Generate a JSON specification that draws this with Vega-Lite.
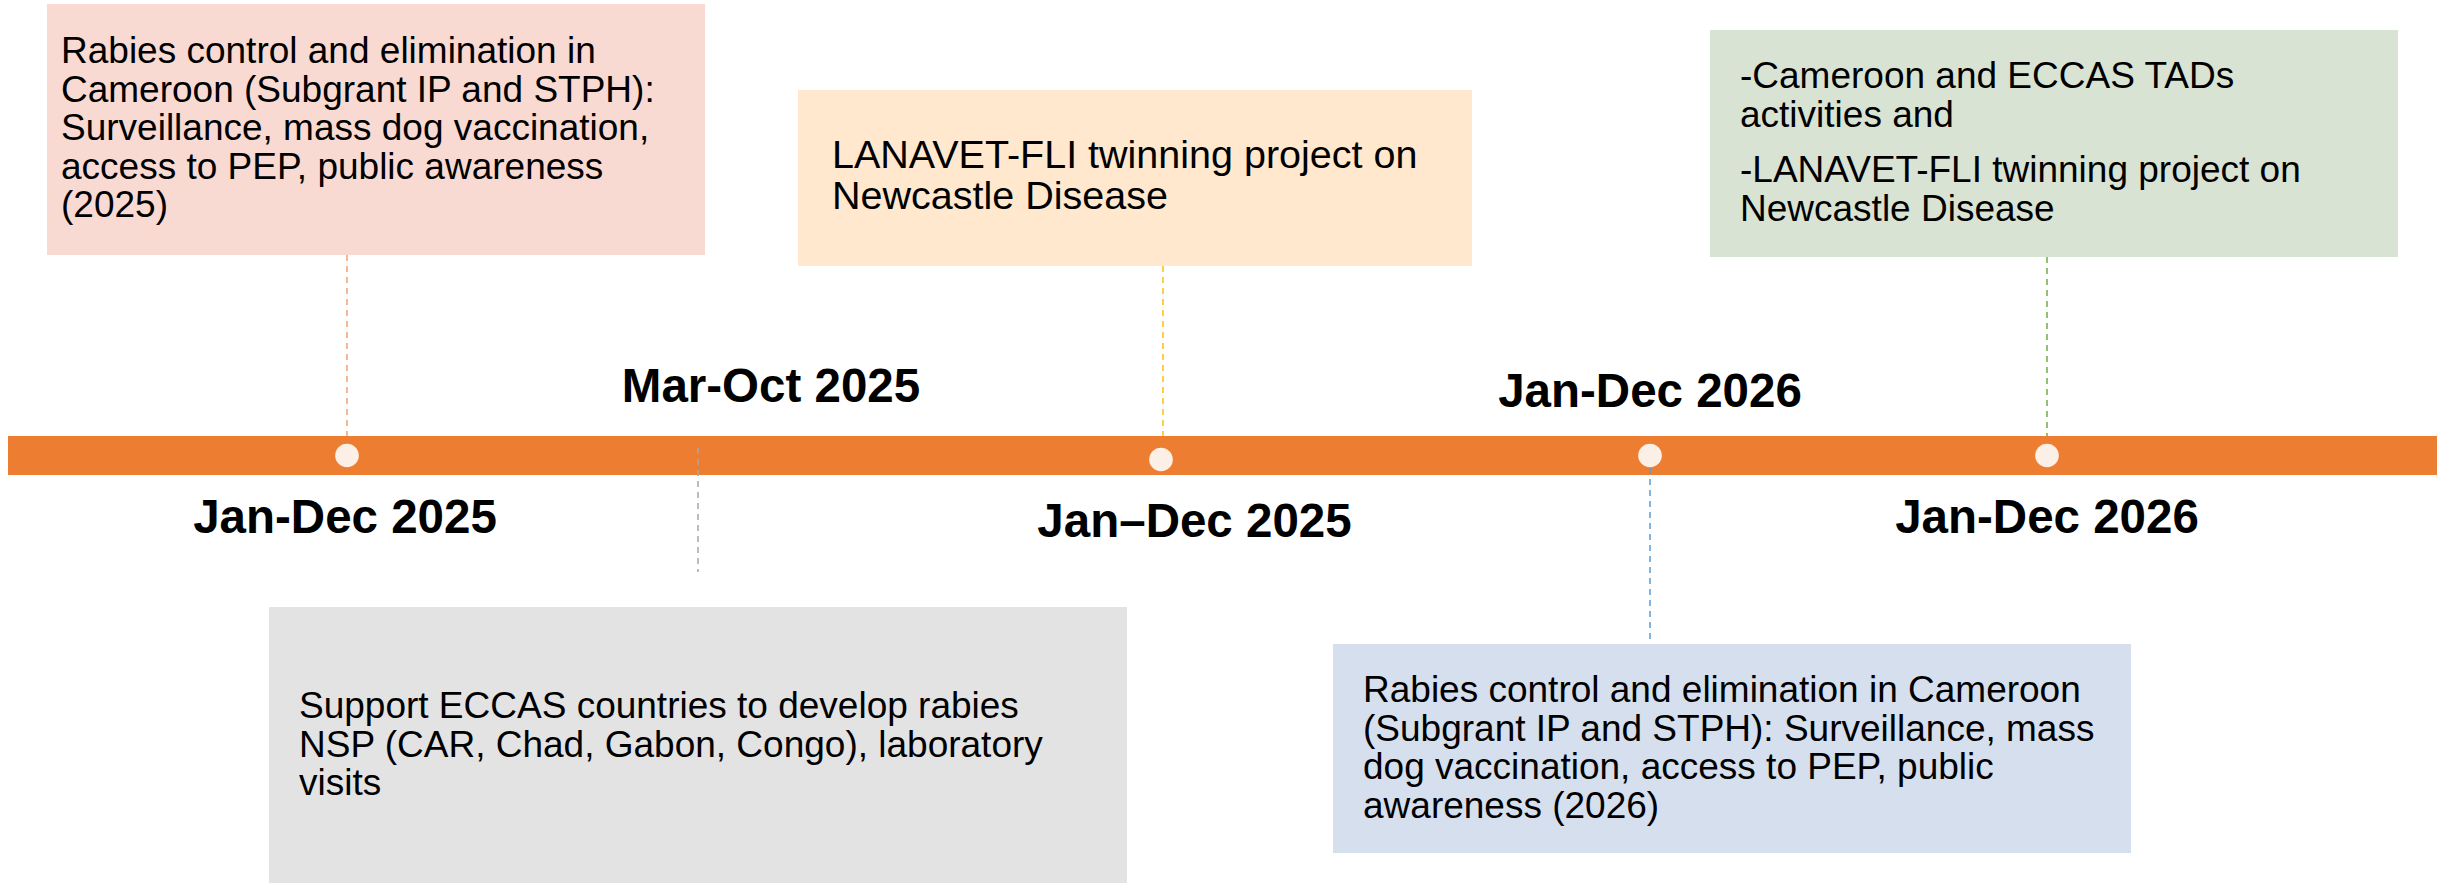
{
  "$schema": "https://vega.github.io/schema/vega-lite/v6.json",
  "width": 2445,
  "height": 883,
  "autosize": {"type": "fit", "contains": "padding"},
  "padding": 0,
  "background": "white",
  "config": {"view": {"stroke": null}, "font": "Liberation Sans"},
  "datasets": {
    "boxes": [
      {"id": "timeline", "x0": 8, "x1": 2437, "y0": 436, "y1": 475},
      {"id": "pink", "x0": 47, "x1": 705, "y0": 4, "y1": 255},
      {"id": "peach", "x0": 798, "x1": 1472, "y0": 90, "y1": 266},
      {"id": "green", "x0": 1710, "x1": 2398, "y0": 30, "y1": 257},
      {"id": "grey", "x0": 269, "x1": 1127, "y0": 607, "y1": 883},
      {"id": "blue", "x0": 1333, "x1": 2131, "y0": 644, "y1": 853}
    ],
    "connectors": [
      {"id": "c-pink", "x": 347, "y0": 255, "y1": 436},
      {"id": "c-grey", "x": 698, "y0": 448, "y1": 572},
      {"id": "c-peach", "x": 1163, "y0": 266, "y1": 436},
      {"id": "c-blue", "x": 1650, "y0": 468, "y1": 644},
      {"id": "c-green", "x": 2047, "y0": 257, "y1": 436}
    ],
    "dots": [
      {"x": 347, "y": 455.5},
      {"x": 1161, "y": 459.5},
      {"x": 1650, "y": 455.5},
      {"x": 2047, "y": 455.5}
    ],
    "notes": [
      {"id": "pink", "x": 61, "y": 63, "text": "Rabies control and elimination in\nCameroon (Subgrant IP and STPH):\nSurveillance, mass dog vaccination,\naccess to PEP, public awareness\n(2025)"},
      {"id": "green-a", "x": 1740, "y": 88, "text": "-Cameroon and ECCAS TADs\nactivities and"},
      {"id": "green-b", "x": 1740, "y": 182, "text": "-LANAVET-FLI twinning project on\nNewcastle Disease"},
      {"id": "grey", "x": 299, "y": 718, "text": "Support ECCAS countries to develop rabies\nNSP (CAR, Chad, Gabon, Congo), laboratory\nvisits"},
      {"id": "blue", "x": 1363, "y": 702, "text": "Rabies control and elimination in Cameroon\n(Subgrant IP and STPH): Surveillance, mass\ndog vaccination, access to PEP, public\nawareness (2026)"}
    ],
    "notesBig": [
      {"id": "peach", "x": 832, "y": 168, "text": "LANAVET-FLI twinning project on\nNewcastle Disease"}
    ],
    "labels": [
      {"label": "Jan-Dec 2025", "x": 345, "y": 533},
      {"label": "Mar-Oct 2025", "x": 771, "y": 402},
      {"label": "Jan\u2013Dec 2025", "x": 1194.5, "y": 537},
      {"label": "Jan-Dec 2026", "x": 1650, "y": 407},
      {"label": "Jan-Dec 2026", "x": 2047, "y": 533}
    ]
  },
  "layer": [
    {
      "data": {"name": "boxes"},
      "mark": {"type": "rect"},
      "encoding": {
        "x": {"field": "x0", "type": "quantitative", "scale": {"domain": [0, 2445], "nice": false, "zero": false}, "axis": null},
        "x2": {"field": "x1"},
        "y": {"field": "y0", "type": "quantitative", "scale": {"domain": [0, 883], "nice": false, "zero": false, "reverse": true}, "axis": null},
        "y2": {"field": "y1"},
        "color": {
          "field": "id", "type": "nominal", "legend": null,
          "scale": {
            "domain": ["timeline", "pink", "peach", "green", "grey", "blue", "c-pink", "c-grey", "c-peach", "c-blue", "c-green"],
            "range": ["#ED7D31", "#F8DAD2", "#FFE8CE", "#D9E3D3", "#E3E3E3", "#D5DFED", "#F4A072", "#A6A6A6", "#FFC000", "#5B9BD5", "#70AD47"]
          }
        }
      }
    },
    {
      "data": {"name": "connectors"},
      "mark": {"type": "rule", "strokeDash": [6, 5], "strokeWidth": 1.5},
      "encoding": {
        "x": {"field": "x", "type": "quantitative"},
        "y": {"field": "y0", "type": "quantitative"},
        "y2": {"field": "y1"},
        "color": {"field": "id", "type": "nominal", "legend": null}
      }
    },
    {
      "data": {"name": "dots"},
      "mark": {"type": "point", "shape": "circle", "filled": true, "size": 560, "color": "#FCEFE6", "opacity": 1},
      "encoding": {
        "x": {"field": "x", "type": "quantitative"},
        "y": {"field": "y", "type": "quantitative"}
      }
    },
    {
      "data": {"name": "notes"},
      "mark": {"type": "text", "align": "left", "baseline": "alphabetic", "lineBreak": "\n", "fontSize": 37, "lineHeight": 38.5, "color": "#000000", "font": "Liberation Sans"},
      "encoding": {
        "x": {"field": "x", "type": "quantitative"},
        "y": {"field": "y", "type": "quantitative"},
        "text": {"field": "text", "type": "nominal"}
      }
    },
    {
      "data": {"name": "notesBig"},
      "mark": {"type": "text", "align": "left", "baseline": "alphabetic", "lineBreak": "\n", "fontSize": 39.5, "lineHeight": 41, "color": "#000000", "font": "Liberation Sans"},
      "encoding": {
        "x": {"field": "x", "type": "quantitative"},
        "y": {"field": "y", "type": "quantitative"},
        "text": {"field": "text", "type": "nominal"}
      }
    },
    {
      "data": {"name": "labels"},
      "mark": {"type": "text", "align": "center", "baseline": "alphabetic", "fontSize": 47.5, "fontWeight": "bold", "color": "#000000", "font": "Liberation Sans"},
      "encoding": {
        "x": {"field": "x", "type": "quantitative"},
        "y": {"field": "y", "type": "quantitative"},
        "text": {"field": "label", "type": "nominal"}
      }
    }
  ]
}
